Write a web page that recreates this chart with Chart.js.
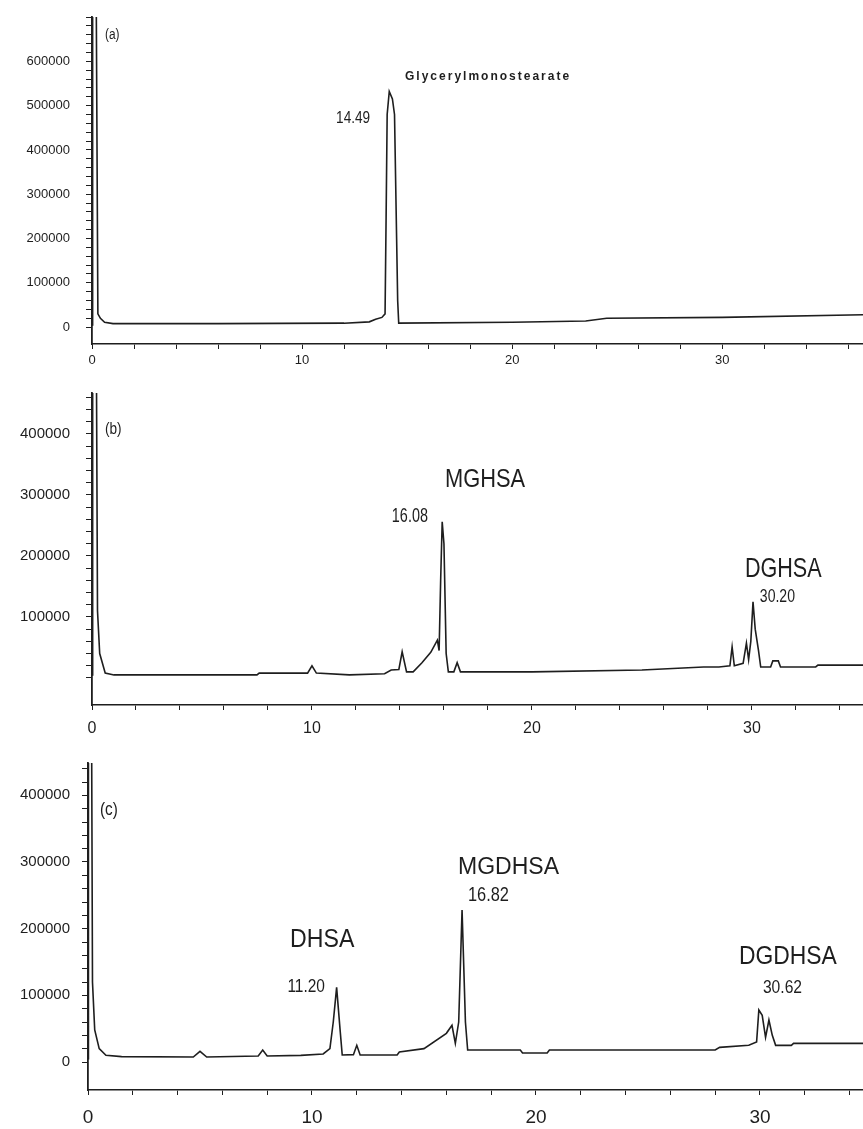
<!DOCTYPE html>
<html>
<head>
<meta charset="utf-8">
<script src="https://cdn.jsdelivr.net/npm/chart.js@4.4.1/dist/chart.umd.min.js"></script>
<style>
  html, body { margin: 0; padding: 0; background: #fff; }
  body { width: 863px; height: 1129px; position: relative; overflow: hidden; }
  canvas { position: absolute; left: 0; }
</style>
</head>
<body>
<canvas id="ca" width="863" height="370" style="top:0px"></canvas>
<canvas id="cb" width="863" height="365" style="top:370px"></canvas>
<canvas id="cc" width="863" height="394" style="top:735px"></canvas>
<script>
// ---------- DATA ----------
// Retention time (min) and detector response
const timeA   = [0, 0.03, 0.2, 0.28, 0.4, 0.6, 1.0, 6, 12, 13.2, 13.5, 13.8, 13.95, 14.0, 14.05, 14.15, 14.3, 14.4, 14.5, 14.55, 14.6, 20, 23.5, 24.5, 30, 36.7];
const signalA = [5000, 760000, 760000, 30000, 20000, 11000, 8000, 8000, 9000, 12000, 18000, 22000, 30000, 250000, 480000, 532000, 515000, 480000, 200000, 60000, 9000, 11000, 14000, 20000, 22000, 28000];

const timeB   = [0, 0.03, 0.2, 0.25, 0.35, 0.6, 1, 7.5, 7.6, 9.8, 10.0, 10.2, 11.7, 13.3, 13.6, 13.95, 14.1, 14.3, 14.6, 15.0, 15.4, 15.7, 15.78, 15.85, 15.92, 16.0, 16.1, 16.2, 16.45, 16.6, 16.75, 20, 25, 27.8, 28.5, 29.0, 29.1, 29.2, 29.6, 29.75, 29.85, 29.95, 30.05, 30.15, 30.3, 30.4, 30.85, 30.95, 31.2, 31.3, 32.9, 33.0, 35.1];
const signalB = [5000, 520000, 520000, 110000, 40000, 8000, 5000, 5000, 8000, 8000, 20000, 8000, 5000, 7000, 13000, 14000, 43000, 10000, 10000, 25000, 42000, 62000, 45000, 160000, 256000, 220000, 40000, 10000, 10000, 25000, 10000, 10000, 13000, 18000, 18000, 20000, 51000, 20000, 24000, 57000, 30000, 60000, 125000, 80000, 45000, 18000, 18000, 28000, 28000, 18000, 18000, 21000, 21000];

const timeC   = [0, 0.02, 0.15, 0.2, 0.3, 0.5, 0.8, 1.5, 4.7, 5.0, 5.3, 7.6, 7.8, 8.0, 9.5, 10.5, 10.8, 10.95, 11.1, 11.25, 11.35, 11.85, 12.0, 12.15, 13.8, 13.9, 15.0, 16.0, 16.25, 16.4, 16.55, 16.7, 16.85, 16.95, 19.3, 19.4, 20.5, 20.6, 28.0, 28.2, 29.5, 29.85, 29.95, 30.1, 30.25, 30.4, 30.55, 30.7, 31.4, 31.5, 34.7];
const signalC = [5000, 600000, 600000, 120000, 48000, 20000, 10000, 8000, 7500, 16000, 7500, 9000, 18000, 9000, 10000, 12000, 20000, 60000, 112000, 50000, 10500, 11000, 25000, 10500, 10500, 15000, 20000, 43000, 55000, 28000, 60000, 228000, 60000, 18000, 18000, 13500, 13500, 18000, 18000, 22000, 25000, 30000, 78000, 70000, 37000, 63000, 40000, 25000, 25000, 28000, 28000];

// Tick labels
const xTickLabels  = [0, 10, 20, 30];
const yTickLabelsA = [0, 100000, 200000, 300000, 400000, 500000, 600000];
const yTickLabelsB = [100000, 200000, 300000, 400000];
const yTickLabelsC = [0, 100000, 200000, 300000, 400000];

// Panel captions and peak annotations (text + anchor in data units: time, response)
const panelNames = ['(a)', '(b)', '(c)'];
const peakNotesA = [
  { text: 'Glycerylmonostearate', t: 14.9, v: 566000 },
  { text: '14.49', t: 13.24, v: 472000 }
];
const peakNotesB = [
  { text: 'MGHSA', t: 16.05, v: 325000 },
  { text: '16.08', t: 15.27, v: 264000 },
  { text: 'DGHSA', t: 29.68, v: 177000 },
  { text: '30.20', t: 30.36, v: 133000 }
];
const peakNotesC = [
  { text: 'DHSA', t: 9.02, v: 183000 },
  { text: '11.20', t: 10.58, v: 112500 },
  { text: 'MGDHSA', t: 16.52, v: 291000 },
  { text: '16.82', t: 16.96, v: 250000 },
  { text: 'DGDHSA', t: 29.06, v: 157500 },
  { text: '30.62', t: 30.13, v: 111000 }
];

// ---------- STYLE ----------
const FONT = "'Liberation Sans', Arial, sans-serif";
const INK = '#1e1e1e';
// per-note text style (same order as the note arrays)
const noteStyleA = [
  { font: 'bold 12px', align: 'left', sx: 1, spacing: 2 },
  { font: '17px', align: 'right', sx: 0.8, spacing: 0 }
];
const noteStyleB = [
  { font: '26px', align: 'left', sx: 0.84, spacing: 0 },
  { font: '20px', align: 'right', sx: 0.72, spacing: 0 },
  { font: '27px', align: 'left', sx: 0.8, spacing: 0 },
  { font: '18px', align: 'left', sx: 0.78, spacing: 0 }
];
const noteStyleC = [
  { font: '26px', align: 'left', sx: 0.89, spacing: 0 },
  { font: '18px', align: 'right', sx: 0.86, spacing: 0 },
  { font: '23px', align: 'left', sx: 1.0, spacing: 0 },
  { font: '20px', align: 'left', sx: 0.82, spacing: 0 },
  { font: '26px', align: 'left', sx: 0.88, spacing: 0 },
  { font: '18px', align: 'left', sx: 0.87, spacing: 0 }
];

function makePoints(ts, vs) { return ts.map((t, i) => ({ x: t, y: vs[i] })); }

const notesPlugin = {
  id: 'notes',
  afterDraw(chart, args, opts) {
    const ctx = chart.ctx, xs = chart.scales.x, ys = chart.scales.y, ca = chart.chartArea;
    ctx.save();
    ctx.fillStyle = INK;
    ctx.textBaseline = 'middle';
    // panel caption
    ctx.save();
    ctx.translate(ca.left + opts.captionDx, ca.top + opts.captionDy);
    ctx.scale(0.85, 1);
    ctx.font = opts.captionSize + 'px ' + FONT;
    ctx.textAlign = 'left';
    ctx.fillText(opts.caption, 0, 0);
    ctx.restore();
    opts.notes.forEach((n, i) => {
      const st = opts.styles[i];
      ctx.save();
      ctx.translate(xs.getPixelForValue(n.t), ys.getPixelForValue(n.v));
      ctx.scale(st.sx, 1);
      ctx.font = st.font + ' ' + FONT;
      ctx.letterSpacing = st.spacing + 'px';
      ctx.textAlign = st.align;
      ctx.fillText(n.text, 0, 0);
      ctx.restore();
    });
    ctx.restore();
  }
};

function panel(id, ts, vs, cfg) {
  const minorStep = 20000;
  new Chart(document.getElementById(id), {
    type: 'line',
    data: { datasets: [{
      data: makePoints(ts, vs),
      borderColor: INK, borderWidth: 1.6, pointRadius: 0, tension: 0, fill: false
    }] },
    options: {
      responsive: false, animation: false, devicePixelRatio: 1,
      layout: { padding: { top: cfg.padTop, right: 0, left: 0, bottom: 0 } },
      plugins: { legend: { display: false }, tooltip: { enabled: false },
        notes: { caption: cfg.caption, captionDx: cfg.captionDx, captionDy: cfg.captionDy,
                 captionSize: cfg.captionSize, notes: cfg.notes, styles: cfg.styles } },
      scales: {
        x: {
          type: 'linear', min: 0, max: cfg.xMax,
          afterBuildTicks(s) {
            const t = [];
            for (let v = 0; v <= cfg.xMax; v += 2) t.push({ value: v });
            s.ticks = t;
          },
          afterFit(s) { s.height = cfg.xAxisH; s.paddingRight = 0; },
          ticks: {
            autoSkip: false, maxRotation: 0, padding: cfg.xPad, color: INK,
            font: { family: FONT, size: cfg.xFont },
            callback: v => xTickLabels.includes(v) ? String(v) : ''
          },
          grid: { drawOnChartArea: false, drawTicks: true, tickLength: 5, color: INK, lineWidth: 1 },
          border: { display: true, color: INK, width: 1.6 }
        },
        y: {
          type: 'linear', min: cfg.yMin, max: cfg.yMax,
          afterBuildTicks(s) {
            const t = [];
            for (let v = 0; v <= cfg.yMax; v += minorStep) t.push({ value: v });
            s.ticks = t;
          },
          afterFit(s) { s.width = cfg.yAxisW; s.paddingTop = 0; s.paddingBottom = 0; },
          ticks: {
            autoSkip: false, padding: cfg.yPad, color: INK,
            font: { family: FONT, size: cfg.yFont },
            callback: v => cfg.yLabels.includes(v) ? String(v) : ''
          },
          grid: { drawOnChartArea: false, drawTicks: true, tickLength: 6, color: INK, lineWidth: 1 },
          border: { display: true, color: INK, width: 1.8 }
        }
      }
    },
    plugins: [notesPlugin]
  });
}

panel('ca', timeA, signalA, {
  xMax: 36.7, yMin: -38000, yMax: 700000, padTop: 17, xAxisH: 26, yAxisW: 92,
  xPad: 4, xFont: 13, yPad: 16, yFont: 13,
  yLabels: yTickLabelsA, caption: panelNames[0], captionDx: 13, captionDy: 18, captionSize: 14,
  notes: peakNotesA, styles: noteStyleA
});
panel('cb', timeB, signalB, {
  xMax: 35.05, yMin: -44300, yMax: 467000, padTop: 23, xAxisH: 30, yAxisW: 92,
  xPad: 9, xFont: 16, yPad: 16, yFont: 15,
  yLabels: yTickLabelsB, caption: panelNames[1], captionDx: 13, captionDy: 37, captionSize: 16,
  notes: peakNotesB, styles: noteStyleB
});
panel('cc', timeC, signalC, {
  xMax: 34.6, yMin: -42000, yMax: 448500, padTop: 28, xAxisH: 39, yAxisW: 88,
  xPad: 11, xFont: 19, yPad: 12, yFont: 15,
  yLabels: yTickLabelsC, caption: panelNames[2], captionDx: 12, captionDy: 47, captionSize: 18,
  notes: peakNotesC, styles: noteStyleC
});
</script>
</body>
</html>
